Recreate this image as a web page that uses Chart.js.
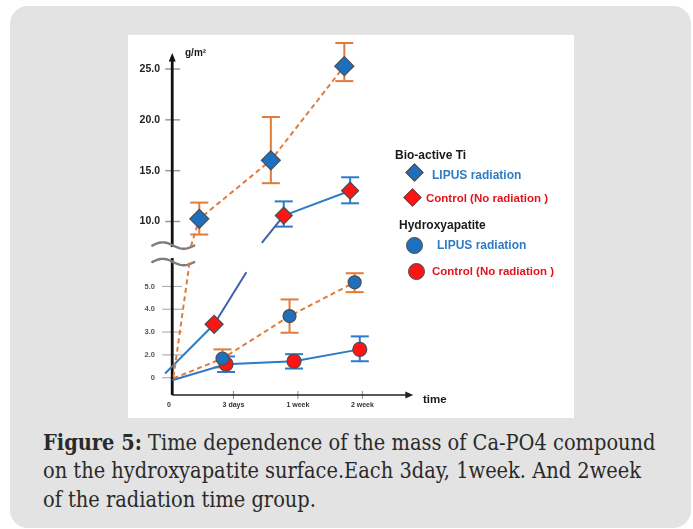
<!DOCTYPE html>
<html>
<head>
<meta charset="utf-8">
<script src="https://cdn.jsdelivr.net/npm/chart.js@4.4.1/dist/chart.umd.min.js"></script>
<style>
    html, body { margin: 0; padding: 0; background: #fff; }
    body { width: 693px; height: 529px; position: relative; overflow: hidden; font-family: "Liberation Sans", Arial, sans-serif; }
    #caja { position: absolute; left: 10px; top: 6px; width: 681px; height: 522px; background: #e3e3e3; border-radius: 18px; }
    #imagen { position: absolute; left: 128px; top: 35px; width: 446px; height: 383px; background: #fff; }
    #chart-div { position: absolute; left: 100px; top: 17px; width: 480px; height: 408px; }
    .txt { position: absolute; font-weight: bold; white-space: nowrap; line-height: 14px; }
    .ley { font-size: 12px; }
    .azul { color: #2f7cc3; }
    .rojo { color: #e3141b; }
    .negro { color: #1a1a1a; }
    .rombo { position: absolute; width: 11px; height: 11px; transform: rotate(45deg); border: 1px solid #4d4d4d; }
    .circulo { position: absolute; width: 15px; height: 15px; border-radius: 50%; border: 1px solid #4d4d4d; }
    #pie { position: absolute; left: 43px; top: 429px; font-family: "DejaVu Serif Condensed", "DejaVu Serif", serif; font-size: 20px; line-height: 28.3px; color: #2a2a2a; white-space: nowrap; }
    #pie b { font-weight: bold; }
</style>
</head>
<body>
<div id="caja"></div>
<div id="imagen"></div>
<div id="chart-div"><canvas id="chart1" width="480" height="408"></canvas></div>

<div class="txt negro" style="left:185px; top:46px; font-size:10px;">g/m²</div>
<div class="txt negro" style="left:423px; top:392px; font-size:11.5px;">time</div>

<div class="txt ley negro" style="left:395px; top:148px;">Bio-active Ti</div>
<div class="rombo" style="left:408px; top:166px; background:#1f6fbf;"></div>
<div class="txt ley azul" style="left:432px; top:168px;">LIPUS radiation</div>
<div class="rombo" style="left:406px; top:191px; background:#ff1414;"></div>
<div class="txt ley rojo" style="left:426px; top:191px; font-size:11.5px;">Control (No radiation )</div>
<div class="txt ley negro" style="left:399px; top:218px;">Hydroxyapatite</div>
<div class="circulo" style="left:406px; top:237px; background:#1f6fbf;"></div>
<div class="txt ley azul" style="left:437px; top:238px;">LIPUS radiation</div>
<div class="circulo" style="left:408px; top:263px; background:#ff1414;"></div>
<div class="txt ley rojo" style="left:432px; top:264px; font-size:11.5px;">Control (No radiation )</div>

<div id="pie"><span id="linea1"><b>Figure 5:</b> Time dependence of the mass of Ca-PO4 compound</span><br>on the hydroxyapatite surface.Each 3day, 1week. And 2week<br>of the radiation time group.</div>

<script>
//--------------------------------------DATOS
// eje x: 0 = origen, 1 = 3 days, 2 = 1 week, 3 = 2 week (posiciones)
var X_TICKS = [0, 1, 2, 3];
var X_LABELS = ['0', '3 days', '1 week', '2 week'];

// eje y partido: tramo superior y tramo inferior
var Y_SUP_TICKS = [10, 15, 20, 25];
var Y_SUP_LABELS = ['10.0', '15.0', '20.0', '25.0'];
// en el original la marca "0" esta un paso por debajo de "2.0"
var Y_INF_TICKS = [1, 2, 3, 4, 5];
var Y_INF_LABELS = ['0', '2.0', '3.0', '4.0', '5.0'];
var Y_INF_MAX = 6.42;

// Bio-active Ti, LIPUS radiation
var tiLipusX = [0.47, 1.58, 2.72];
var tiLipusY = [10.26, 16.02, 25.28];
var tiLipusMin = [8.72, 13.77, 23.81];
var tiLipusMax = [11.86, 20.28, 27.56];

// Bio-active Ti, Control (No radiation)
var tiCtrlX = [0.70, 1.78, 2.81];
var tiCtrlY = [3.34, 10.58, 13.03];
var tiCtrlMin = [null, 9.50, 11.79];
var tiCtrlMax = [null, 11.98, 14.35];

// Hydroxyapatite, LIPUS radiation
var haLipusX = [0.83, 1.87, 2.88];
var haLipusY = [1.84, 3.70, 5.18];
var haLipusMin = [1.45, 2.97, 4.75];
var haLipusMax = [2.24, 4.43, 5.58];

// Hydroxyapatite, Control (No radiation)
var haCtrlX = [0.885, 1.94, 2.96];
var haCtrlY = [1.59, 1.72, 2.24];
var haCtrlMin = [1.25, 1.40, 1.72];
var haCtrlMax = [1.93, 2.03, 2.81];

// extremos de las rectas dibujadas (origen y corte del eje)
var tiLipusIni = [0.07, 1.03];
var tiLipusCorteInf = [0.32, 6.06];
var tiLipusCorteSup = [0.34, 7.55];
var tiCtrlIni = [-0.06, 1.18];
var tiCtrlCorteInf = [1.20, 5.62];
var tiCtrlCorteSup = [1.44, 7.89];
var haLipusIni = [0.07, 0.97];
var haCtrlIni = [0.05, 0.89];

//--------------------------------------COLORES
var NARANJA = '#e07b3c';
var AZUL = '#2b7bc8';
var MARINO = '#4060ae';
var AZUL_MARCA = '#1f6fbf';
var ROJO_MARCA = '#ff1414';

function puntos(xs, ys) {
    var res = [];
    for (var i = 0; i < xs.length; i++) {
        res.push({x: xs[i], y: ys[i]});
    }
    return res;
}

function ejeDe(v) {
    return v <= Y_INF_MAX ? 'yInf' : 'ySup';
}

function filtrarEje(pts, eje) {
    return pts.filter(function (p) { return ejeDe(p.y) == eje; });
}

var tiLipusPts = puntos(tiLipusX, tiLipusY);
var tiCtrlPts = puntos(tiCtrlX, tiCtrlY);
var haLipusPts = puntos(haLipusX, haLipusY);
var haCtrlPts = puntos(haCtrlX, haCtrlY);

function p(a) { return {x: a[0], y: a[1]}; }

//--------------------------------------BARRAS DE ERROR Y EJES
var barras = [
    {x: tiLipusX, y: tiLipusY, min: tiLipusMin, max: tiLipusMax, color: NARANJA},
    {x: tiCtrlX, y: tiCtrlY, min: tiCtrlMin, max: tiCtrlMax, color: AZUL},
    {x: haLipusX, y: haLipusY, min: haLipusMin, max: haLipusMax, color: NARANJA},
    {x: haCtrlX, y: haCtrlY, min: haCtrlMin, max: haCtrlMax, color: AZUL}
];

function linea(ctx, x1, y1, x2, y2) {
    ctx.beginPath();
    ctx.moveTo(x1, y1);
    ctx.lineTo(x2, y2);
    ctx.stroke();
}

function tilde(ctx, x1, x2, yc) {
    ctx.beginPath();
    for (var i = 0; i <= 30; i++) {
        var t = i / 30;
        var xx = x1 + (x2 - x1) * t;
        var yy = yc - 3.2 * Math.sin(2 * Math.PI * t);
        if (i == 0) ctx.moveTo(xx, yy); else ctx.lineTo(xx, yy);
    }
    ctx.stroke();
}

var ejesPlugin = {
    id: 'ejes',
    beforeDatasetsDraw: function (chart) {
        var ctx = chart.ctx;
        var area = chart.chartArea;
        var sx = chart.scales.x;
        var ys = chart.scales.ySup;
        var yi = chart.scales.yInf;
        var x0 = sx.getPixelForValue(0.05);
        var corte = ys.bottom;
        ctx.save();

        // marcas de los ticks
        ctx.strokeStyle = '#9a9a9a';
        ctx.lineWidth = 1.5;
        Y_SUP_TICKS.forEach(function (v) {
            var yy = ys.getPixelForValue(v);
            linea(ctx, x0 - 7, yy, x0 + 8, yy);
        });
        ctx.strokeStyle = '#b0b0b0';
        ctx.lineWidth = 1.2;
        Y_INF_TICKS.forEach(function (v) {
            var yy = yi.getPixelForValue(v);
            linea(ctx, x0 - 10, yy, x0 + 10, yy);
        });
        ctx.strokeStyle = '#8a8a8a';
        ctx.lineWidth = 1;
        X_TICKS.slice(1).forEach(function (v) {
            var xx = sx.getPixelForValue(v);
            linea(ctx, xx, area.bottom - 4, xx, area.bottom + 4);
        });

        // eje y con corte
        ctx.strokeStyle = '#111';
        ctx.fillStyle = '#111';
        ctx.lineWidth = 2.8;
        linea(ctx, x0, ys.top + 20, x0, corte - 7);
        linea(ctx, x0, corte + 4, x0, area.bottom);
        ctx.beginPath();
        ctx.moveTo(x0, ys.top + 14.5);
        ctx.lineTo(x0 - 3.5, ys.top + 23);
        ctx.lineTo(x0 + 3.5, ys.top + 23);
        ctx.closePath();
        ctx.fill();

        ctx.strokeStyle = '#7d7d7d';
        ctx.lineWidth = 2.4;
        ctx.lineCap = 'round';
        tilde(ctx, x0 - 20, x0 + 22, corte - 8.5);
        tilde(ctx, x0 - 20, x0 + 22, corte + 8);
        ctx.lineCap = 'butt';

        // eje x
        ctx.strokeStyle = '#222';
        ctx.fillStyle = '#222';
        ctx.lineWidth = 1.6;
        linea(ctx, x0, area.bottom, area.right - 6, area.bottom);
        ctx.beginPath();
        ctx.moveTo(area.right, area.bottom);
        ctx.lineTo(area.right - 8, area.bottom - 3.5);
        ctx.lineTo(area.right - 8, area.bottom + 3.5);
        ctx.closePath();
        ctx.fill();

        // barras de error
        ctx.lineWidth = 2;
        barras.forEach(function (b) {
            ctx.strokeStyle = b.color;
            for (var i = 0; i < b.x.length; i++) {
                if (b.min[i] == null) continue;
                var esc = chart.scales[ejeDe(b.y[i])];
                var xx = sx.getPixelForValue(b.x[i]);
                var y1 = esc.getPixelForValue(b.min[i]);
                var y2 = esc.getPixelForValue(b.max[i]);
                linea(ctx, xx, y1, xx, y2);
                linea(ctx, xx - 9, y1, xx + 9, y1);
                linea(ctx, xx - 9, y2, xx + 9, y2);
            }
        });
        ctx.restore();
    }
};

//--------------------------------------GRAFICA
function lineaDs(pts, eje, color, guiones, segColor) {
    var ds = {
        type: 'line',
        data: pts,
        yAxisID: eje,
        borderColor: color,
        borderWidth: 2,
        borderDash: guiones ? [5, 3.5] : [],
        pointRadius: 0,
        fill: false,
        tension: 0,
        clip: 10,
        order: 10
    };
    if (segColor) {
        ds.segment = {borderColor: function (c) { return segColor[c.p0DataIndex]; }};
    }
    return ds;
}

function marcaDs(pts, eje, estilo, radio, color, orden) {
    return {
        type: 'line',
        data: pts,
        yAxisID: eje,
        showLine: false,
        pointStyle: estilo,
        pointRadius: radio,
        pointBackgroundColor: color,
        pointBorderColor: '#4d4d4d',
        pointBorderWidth: 1.2,
        clip: 10,
        order: orden
    };
}

function grafica() {
    var popCanvas = document.getElementById('chart1');
    new Chart(popCanvas, {
        type: 'line',
        data: {
            datasets: [
                lineaDs([p(tiLipusIni), p(tiLipusCorteInf)], 'yInf', NARANJA, true),
                lineaDs([p(tiLipusCorteSup)].concat(tiLipusPts), 'ySup', NARANJA, true),
                lineaDs([p(haLipusIni)].concat(haLipusPts), 'yInf', NARANJA, true),
                lineaDs([p(tiCtrlIni)].concat(filtrarEje(tiCtrlPts, 'yInf'), [p(tiCtrlCorteInf)]), 'yInf', AZUL, false, [AZUL, MARINO]),
                lineaDs([p(tiCtrlCorteSup)].concat(filtrarEje(tiCtrlPts, 'ySup')), 'ySup', AZUL, false, [MARINO, AZUL]),
                lineaDs([p(haCtrlIni)].concat(haCtrlPts), 'yInf', AZUL, false),
                marcaDs(haCtrlPts, 'yInf', 'circle', 7, ROJO_MARCA, 2),
                marcaDs(haLipusPts, 'yInf', 'circle', 6.5, AZUL_MARCA, 1),
                marcaDs(filtrarEje(tiCtrlPts, 'yInf'), 'yInf', 'rectRot', 9, ROJO_MARCA, 1),
                marcaDs(filtrarEje(tiCtrlPts, 'ySup'), 'ySup', 'rectRot', 8.5, ROJO_MARCA, 1),
                marcaDs(tiLipusPts, 'ySup', 'rectRot', 9.5, AZUL_MARCA, 0)
            ]
        },
        options: {
            responsive: false,
            animation: false,
            layout: {padding: {top: 12.1, left: 0, right: 166.7, bottom: 0}},
            plugins: {legend: {display: false}, tooltip: {enabled: false}},
            scales: {
                x: {
                    type: 'linear', min: 0.0466, max: 3.79,
                    afterBuildTicks: function (s) { s.ticks = X_TICKS.map(function (v) { return {value: v}; }); },
                    afterFit: function (s) { s.height = 30; },
                    grid: {display: false, drawTicks: false},
                    border: {display: false},
                    ticks: {
                        autoSkip: false, maxRotation: 0, padding: 6, color: '#333',
                        font: {family: 'Liberation Sans', size: 7, weight: 'bold'},
                        callback: function (v, i) { return X_LABELS[i]; }
                    }
                },
                yInf: {
                    type: 'linear', position: 'left', stack: 'eje', stackWeight: 141.5,
                    min: 0.24, max: Y_INF_MAX,
                    afterBuildTicks: function (s) { s.ticks = Y_INF_TICKS.map(function (v) { return {value: v}; }); },
                    afterFit: function (s) { s.width = 72; },
                    grid: {display: false, drawTicks: false},
                    border: {display: false},
                    ticks: {
                        padding: 17, color: '#555',
                        font: {family: 'Liberation Sans', size: 7.5, weight: 'bold'},
                        callback: function (v, i) { return Y_INF_LABELS[i]; }
                    }
                },
                ySup: {
                    type: 'linear', position: 'left', stack: 'eje', stackWeight: 216.4,
                    min: 6.8, max: 28.0,
                    afterBuildTicks: function (s) { s.ticks = Y_SUP_TICKS.map(function (v) { return {value: v}; }); },
                    afterFit: function (s) { s.width = 72; },
                    grid: {display: false, drawTicks: false},
                    border: {display: false},
                    ticks: {
                        padding: 12, color: '#222',
                        font: {family: 'Liberation Sans', size: 10.5, weight: 'bold'},
                        callback: function (v, i) { return Y_SUP_LABELS[i]; }
                    }
                }
            }
        },
        plugins: [ejesPlugin]
    });
}

//--------------------------------------PIE DE FIGURA
function ajustarPie() {
    var pie = document.getElementById('pie');
    var w = document.getElementById('linea1').getBoundingClientRect().width;
    var size = 20 * 613 / w;
    pie.style.fontSize = size.toFixed(2) + 'px';
}

ajustarPie();
grafica();
</script>
</body>
</html>
